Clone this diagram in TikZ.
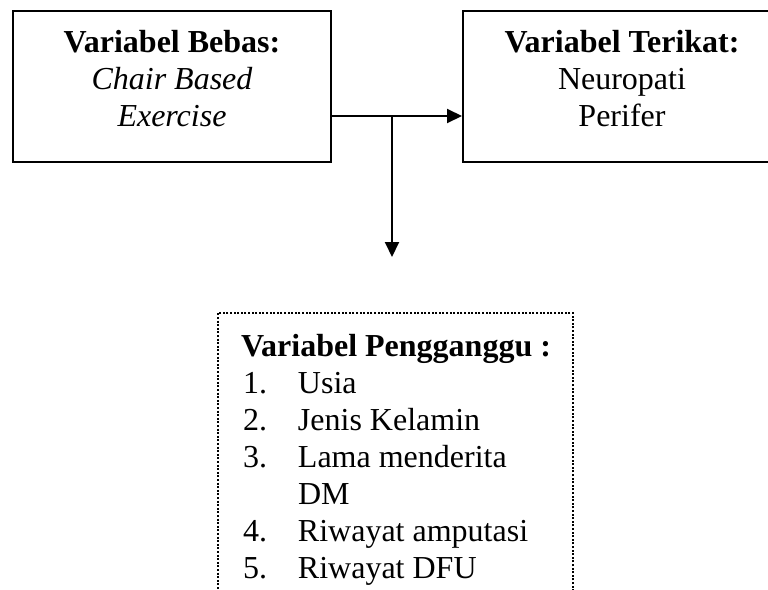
\documentclass[tikz,border=0pt]{standalone}
\usepackage{fontspec}
\setmainfont{Liberation Serif}
\usetikzlibrary{arrows.meta}
\begin{document}
\begin{tikzpicture}[x=1pt, y=-1pt, line width=2pt,
        every node/.style={inner sep=0pt, font=\fontsize{32}{37}\selectfont},
        box/.style={draw, minimum width=318pt, minimum height=151pt},
        dotbox/.style={draw, dash pattern=on 2pt off 1.6pt, minimum width=355pt, minimum height=330pt},
        arrow/.style={-{Triangle[length=15pt,width=14pt]}}]
        \useasboundingbox (0,0) rectangle (768,589);
        \coordinate (j) at (392,116);
        \coordinate (tip) at (392,257);
        \node[box] (bebas) at (172,86.5) {};
        \node[box] (terikat) at (622,86.5) {};
        \node[dotbox] (ganggu) at (395.5,478) {};
        \node[align=center, anchor=north] (bebastext) at (172,29) {\textbf{Variabel Bebas:}\\\textit{Chair Based}\\\textit{Exercise}};
        \node[align=center, anchor=north] (terikattext) at (622,29) {\textbf{Variabel Terikat:}\\Neuropati\\Perifer};
        \node[align=left, anchor=north west] (gangguText) at (240,333) {\textbf{Variabel Pengganggu :}\\
            \hspace{2pt}\makebox[55pt][l]{1.}Usia\\
            \hspace{2pt}\makebox[55pt][l]{2.}Jenis Kelamin\\
            \hspace{2pt}\makebox[55pt][l]{3.}Lama menderita\\
            \hspace{57pt}DM\\
            \hspace{2pt}\makebox[55pt][l]{4.}Riwayat amputasi\\
            \hspace{2pt}\makebox[55pt][l]{5.}Riwayat DFU};
        \draw[arrow] (bebas.east |- j) -- (terikat.west |- j);
        \draw[arrow] (j) -- (tip);
    \end{tikzpicture}
\end{document}
